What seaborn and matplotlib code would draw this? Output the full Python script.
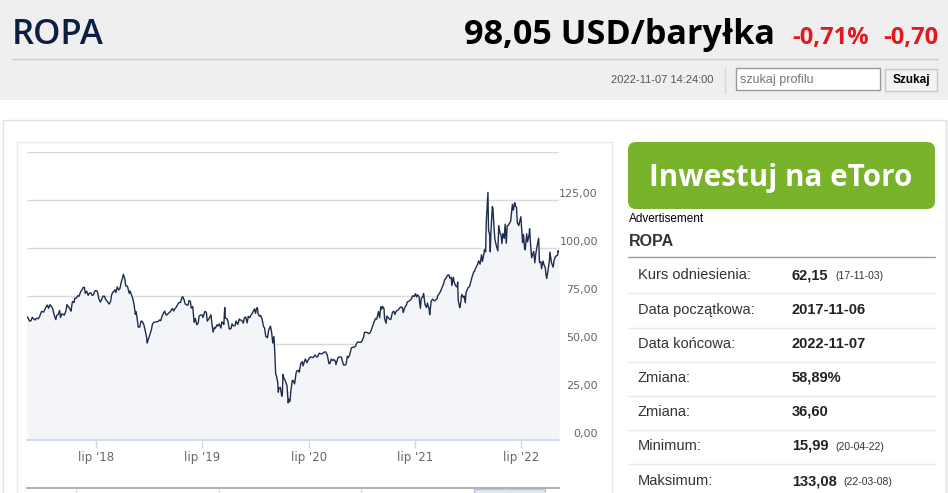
import matplotlib
matplotlib.use("Agg")
import matplotlib.pyplot as plt
import matplotlib.patches as mpatches
from matplotlib.transforms import Affine2D, ScaledTranslation
import seaborn as sns
import pandas as pd

W, H = 948, 493

# Brent price (roughly weekly, extra points at spikes)
dates = [
    # 2017
    "2017-11-06", "2017-11-10", "2017-11-15", "2017-11-20", "2017-11-24", "2017-11-29",
    "2017-12-04", "2017-12-08", "2017-12-12", "2017-12-15", "2017-12-20", "2017-12-26",
    # 2018
    "2018-01-02", "2018-01-05", "2018-01-10", "2018-01-15", "2018-01-19", "2018-01-24",
    "2018-01-29", "2018-02-02", "2018-02-08", "2018-02-13", "2018-02-16", "2018-02-21",
    "2018-02-26", "2018-03-01", "2018-03-06", "2018-03-09", "2018-03-14", "2018-03-20",
    "2018-03-23", "2018-03-28", "2018-04-03", "2018-04-06", "2018-04-11", "2018-04-17",
    "2018-04-19", "2018-04-24", "2018-04-30", "2018-05-04", "2018-05-09", "2018-05-14",
    "2018-05-17", "2018-05-22", "2018-05-25", "2018-05-30", "2018-06-04", "2018-06-08",
    "2018-06-13", "2018-06-18", "2018-06-22", "2018-06-27", "2018-07-03", "2018-07-06",
    "2018-07-11", "2018-07-16", "2018-07-20", "2018-07-25", "2018-07-30", "2018-08-03",
    "2018-08-08", "2018-08-15", "2018-08-20", "2018-08-24", "2018-08-29", "2018-09-04",
    "2018-09-07", "2018-09-12", "2018-09-17", "2018-09-21", "2018-09-25", "2018-10-01",
    "2018-10-03", "2018-10-08", "2018-10-11", "2018-10-17", "2018-10-23", "2018-10-26",
    "2018-10-31", "2018-11-05", "2018-11-09", "2018-11-13", "2018-11-16", "2018-11-20",
    "2018-11-23", "2018-11-28", "2018-12-03", "2018-12-07", "2018-12-12", "2018-12-18",
    "2018-12-21", "2018-12-24", "2018-12-27",
    # 2019
    "2019-01-02", "2019-01-07", "2019-01-11", "2019-01-16", "2019-01-22", "2019-01-25",
    "2019-01-30", "2019-02-04", "2019-02-08", "2019-02-13", "2019-02-19", "2019-02-22",
    "2019-02-26", "2019-03-01", "2019-03-06", "2019-03-12", "2019-03-15", "2019-03-20",
    "2019-03-25", "2019-03-29", "2019-04-03", "2019-04-09", "2019-04-12", "2019-04-17",
    "2019-04-23", "2019-04-25", "2019-04-30", "2019-05-03", "2019-05-08", "2019-05-13",
    "2019-05-16", "2019-05-21", "2019-05-24", "2019-05-29", "2019-06-03", "2019-06-07",
    "2019-06-12", "2019-06-17", "2019-06-20", "2019-06-25", "2019-07-01", "2019-07-03",
    "2019-07-10", "2019-07-15", "2019-07-18", "2019-07-24", "2019-07-31", "2019-08-02",
    "2019-08-07", "2019-08-12", "2019-08-15", "2019-08-20", "2019-08-23", "2019-08-28",
    "2019-09-03", "2019-09-06", "2019-09-11", "2019-09-13", "2019-09-16", "2019-09-18",
    "2019-09-24", "2019-09-27", "2019-10-02", "2019-10-08", "2019-10-11", "2019-10-16",
    "2019-10-22", "2019-10-25", "2019-10-31", "2019-11-05", "2019-11-08", "2019-11-13",
    "2019-11-19", "2019-11-22", "2019-11-27", "2019-12-02", "2019-12-06", "2019-12-11",
    "2019-12-16", "2019-12-20", "2019-12-27", "2019-12-31",
    # 2020
    "2020-01-03", "2020-01-06", "2020-01-09", "2020-01-14", "2020-01-17", "2020-01-22",
    "2020-01-27", "2020-01-31", "2020-02-04", "2020-02-10", "2020-02-14", "2020-02-20",
    "2020-02-24", "2020-02-28", "2020-03-03", "2020-03-06", "2020-03-09", "2020-03-12",
    "2020-03-16", "2020-03-18", "2020-03-20", "2020-03-25", "2020-03-30", "2020-04-01",
    "2020-04-03", "2020-04-07", "2020-04-09", "2020-04-14", "2020-04-17", "2020-04-21",
    "2020-04-23", "2020-04-27", "2020-04-30", "2020-05-05", "2020-05-08", "2020-05-13",
    "2020-05-18", "2020-05-21", "2020-05-26", "2020-05-29", "2020-06-03", "2020-06-08",
    "2020-06-11", "2020-06-16", "2020-06-19", "2020-06-24", "2020-06-29", "2020-07-03",
    "2020-07-08", "2020-07-14", "2020-07-17", "2020-07-22", "2020-07-28", "2020-07-31",
    "2020-08-05", "2020-08-10", "2020-08-14", "2020-08-19", "2020-08-25", "2020-08-28",
    "2020-09-02", "2020-09-08", "2020-09-11", "2020-09-16", "2020-09-21", "2020-09-25",
    "2020-09-30", "2020-10-02", "2020-10-07", "2020-10-09", "2020-10-14", "2020-10-20",
    "2020-10-23", "2020-10-28", "2020-11-02", "2020-11-06", "2020-11-10", "2020-11-13",
    "2020-11-18", "2020-11-24", "2020-11-27", "2020-12-02", "2020-12-08", "2020-12-11",
    "2020-12-16", "2020-12-21", "2020-12-28", "2020-12-31",
    # 2021
    "2021-01-05", "2021-01-08", "2021-01-13", "2021-01-19", "2021-01-22", "2021-01-27",
    "2021-02-01", "2021-02-05", "2021-02-10", "2021-02-15", "2021-02-19", "2021-02-25",
    "2021-03-01", "2021-03-05", "2021-03-08", "2021-03-11", "2021-03-16", "2021-03-18",
    "2021-03-23", "2021-03-26", "2021-03-31", "2021-04-06", "2021-04-09", "2021-04-14",
    "2021-04-19", "2021-04-22", "2021-04-28", "2021-05-03", "2021-05-07", "2021-05-12",
    "2021-05-18", "2021-05-21", "2021-05-26", "2021-06-01", "2021-06-04", "2021-06-09",
    "2021-06-14", "2021-06-18", "2021-06-23", "2021-06-28", "2021-07-02", "2021-07-06",
    "2021-07-09", "2021-07-14", "2021-07-19", "2021-07-22", "2021-07-27", "2021-07-30",
    "2021-08-04", "2021-08-09", "2021-08-12", "2021-08-18", "2021-08-20", "2021-08-25",
    "2021-08-30", "2021-09-03", "2021-09-08", "2021-09-14", "2021-09-17", "2021-09-22",
    "2021-09-28", "2021-10-01", "2021-10-06", "2021-10-11", "2021-10-14", "2021-10-20",
    "2021-10-25", "2021-10-28", "2021-11-02", "2021-11-04", "2021-11-09", "2021-11-12",
    "2021-11-17", "2021-11-22", "2021-11-24", "2021-11-26", "2021-12-01", "2021-12-03",
    "2021-12-08", "2021-12-13", "2021-12-16", "2021-12-20", "2021-12-23", "2021-12-29",
    # 2022
    "2022-01-04", "2022-01-07", "2022-01-12", "2022-01-18", "2022-01-21", "2022-01-26",
    "2022-01-31", "2022-02-04", "2022-02-09", "2022-02-14", "2022-02-17", "2022-02-22",
    "2022-02-24", "2022-02-28", "2022-03-02", "2022-03-04", "2022-03-08", "2022-03-10",
    "2022-03-14", "2022-03-16", "2022-03-18", "2022-03-23", "2022-03-25", "2022-03-29",
    "2022-04-01", "2022-04-06", "2022-04-11", "2022-04-14", "2022-04-19", "2022-04-22",
    "2022-04-25", "2022-04-28", "2022-05-03", "2022-05-06", "2022-05-10", "2022-05-13",
    "2022-05-17", "2022-05-20", "2022-05-25", "2022-05-31", "2022-06-03", "2022-06-08",
    "2022-06-10", "2022-06-14", "2022-06-17", "2022-06-22", "2022-06-24", "2022-06-29",
    "2022-07-01", "2022-07-05", "2022-07-08", "2022-07-12", "2022-07-14", "2022-07-19",
    "2022-07-22", "2022-07-27", "2022-07-29", "2022-08-02", "2022-08-05", "2022-08-10",
    "2022-08-12", "2022-08-16", "2022-08-19", "2022-08-24", "2022-08-29", "2022-09-01",
    "2022-09-06", "2022-09-08", "2022-09-13", "2022-09-16", "2022-09-21", "2022-09-23",
    "2022-09-26", "2022-09-30", "2022-10-05", "2022-10-07", "2022-10-12", "2022-10-14",
    "2022-10-18", "2022-10-21", "2022-10-26", "2022-10-28", "2022-11-02", "2022-11-04",
    "2022-11-07",
]

prices = [
    # 2017
    64.3, 63.5, 61.9, 62.2, 63.9, 63.1,
    62.5, 63.4, 63.3, 63.2, 64.6, 67.0,
    # 2018
    66.6, 67.6, 69.2, 70.3, 68.6, 70.5,
    69.5, 68.6, 64.8, 62.7, 64.8, 65.4,
    67.5, 63.8, 65.8, 65.5, 65.0, 67.4,
    70.5, 69.5, 68.1, 67.1, 72.1, 71.6,
    73.8, 73.9, 75.2, 74.9, 77.2, 78.2,
    79.3, 79.6, 76.4, 77.5, 75.3, 76.5,
    76.7, 75.3, 75.6, 77.6, 77.8, 77.1,
    73.4, 71.8, 73.1, 74.9, 74.9, 73.2,
    72.3, 70.8, 72.2, 75.8, 77.1, 78.2,
    76.8, 79.7, 78.1, 78.8, 81.9, 84.9,
    86.3, 83.9, 80.3, 80.1, 76.4, 77.6,
    75.5, 73.2, 70.2, 65.5, 66.8, 62.5,
    58.8, 58.8, 62.0, 61.7, 60.2, 56.3,
    54.0, 50.5, 52.2,
    # 2019
    54.9, 57.3, 60.5, 61.3, 61.5, 61.6,
    61.7, 62.5, 62.1, 64.6, 66.5, 67.1,
    65.2, 65.1, 65.9, 66.7, 67.2, 68.5,
    67.2, 68.4, 69.3, 71.0, 71.6, 71.6,
    74.5, 74.6, 72.8, 70.9, 70.4, 70.2,
    72.6, 72.2, 68.7, 69.5, 61.3, 63.3,
    60.0, 60.9, 64.5, 65.1, 65.1, 63.8,
    67.0, 66.5, 61.9, 63.2, 65.2, 61.9,
    56.2, 58.6, 58.2, 60.0, 59.3, 60.5,
    58.3, 61.5, 60.8, 60.2, 69.0, 63.6,
    63.1, 61.9, 57.7, 58.2, 60.5, 59.4,
    59.7, 62.0, 60.2, 63.0, 62.5, 62.4,
    60.9, 63.4, 64.1, 61.0, 64.4, 63.7,
    65.3, 66.1, 68.2, 66.0,
    # 2020
    68.6, 68.9, 65.4, 64.5, 64.9, 63.2,
    59.3, 58.2, 54.0, 53.3, 57.3, 59.3,
    56.3, 50.5, 53.9, 45.3, 34.4, 33.2,
    30.1, 24.9, 27.0, 27.4, 22.8, 24.7,
    34.1, 31.9, 31.5, 29.6, 28.1, 19.3,
    21.3, 20.0, 25.3, 31.0, 31.0, 29.2,
    34.8, 36.1, 36.2, 35.3, 39.8, 40.8,
    38.6, 41.0, 42.2, 40.3, 41.7, 42.8,
    43.3, 42.9, 43.1, 44.3, 43.2, 43.3,
    45.2, 45.0, 44.8, 45.4, 45.9, 45.8,
    44.4, 39.8, 39.8, 42.2, 41.4, 41.9,
    41.0, 39.3, 42.0, 42.9, 43.3, 43.2,
    41.8, 39.1, 39.0, 39.5, 43.6, 42.8,
    44.3, 48.0, 48.2, 48.3, 48.8, 50.0,
    51.1, 50.9, 50.9, 51.8,
    # 2021
    53.6, 56.0, 56.1, 55.9, 55.4, 55.8,
    57.5, 59.3, 61.5, 63.3, 62.9, 66.9,
    63.7, 69.4, 68.2, 69.6, 68.4, 63.3,
    60.8, 64.6, 63.5, 62.7, 63.0, 66.6,
    67.1, 65.4, 67.3, 67.6, 68.3, 69.3,
    69.0, 66.4, 68.9, 70.3, 71.9, 72.2,
    72.9, 73.5, 75.2, 74.7, 76.2, 74.5,
    75.6, 74.8, 68.6, 73.8, 74.5, 76.3,
    70.4, 69.0, 71.3, 68.2, 65.2, 72.3,
    73.4, 72.6, 72.6, 73.6, 75.3, 76.2,
    78.1, 79.3, 81.1, 83.7, 84.0, 85.8,
    86.0, 84.3, 84.7, 80.5, 84.8, 82.2,
    80.3, 79.7, 82.3, 72.7, 68.9, 69.9,
    75.8, 74.4, 75.0, 71.5, 76.9, 79.2,
    # 2022
    80.0, 81.8, 84.7, 87.5, 87.9, 90.0,
    91.2, 93.3, 91.6, 96.5, 93.0, 96.8,
    99.1, 98.0, 112.9, 118.1, 129.0, 109.3,
    106.9, 98.0, 107.9, 121.6, 120.6, 110.2,
    104.4, 101.1, 98.5, 111.7, 107.3, 106.7,
    102.3, 107.6, 105.0, 112.4, 102.5, 111.6,
    111.9, 112.6, 114.0, 122.8, 119.7, 123.6,
    122.0, 121.2, 113.1, 111.7, 113.1, 116.3,
    111.6, 102.8, 107.0, 99.5, 99.1, 107.4,
    103.2, 106.6, 110.0, 100.5, 94.9, 97.4,
    98.2, 92.3, 96.7, 101.2, 105.1, 92.4,
    92.8, 89.2, 93.2, 91.4, 89.8, 86.2,
    84.1, 88.0, 93.4, 97.9, 92.5, 91.6,
    90.0, 93.5, 95.7, 95.8, 96.2, 98.6,
    97.9,
]

x_tick_dates = ["2018-07-01", "2019-07-01", "2020-07-01", "2021-07-01", "2022-07-01"]
x_tick_labels = ["lip '18", "lip '19", "lip '20", "lip '21", "lip '22"]
y_ticks = [0, 25, 50, 75, 100, 125, 150]

stat_labels = ["Kurs odniesienia:", "Data początkowa:", "Data końcowa:", "Zmiana:",
               "Zmiana:", "Minimum:", "Maksimum:"]
stat_values = ["62,15", "2017-11-06", "2022-11-07", "58,89%", "36,60", "15,99", "133,08"]
stat_notes = ["(17-11-03)", "", "", "", "", "(20-04-22)", "(22-03-08)"]

assert len(dates) == len(prices)

sns.set_theme(style="white")
plt.rcParams["font.family"] = ["DejaVu Sans"]

fig = plt.figure(figsize=(W / 100, H / 100), dpi=100)
fig.patch.set_facecolor("white")
# pixel coordinates, origin top-left
T = Affine2D().scale(1, -1).translate(0, H)


def rect(x0, y0, x1, y1, **kw):
    fig.add_artist(mpatches.Rectangle((x0, y0), x1 - x0, y1 - y0, transform=T, **kw))


def line(x0, y0, x1, y1, **kw):
    fig.add_artist(plt.Line2D([x0, x1], [y0, y1], transform=T, **kw))


def text(x, y, s, **kw):
    fig.text(x, y, s, transform=T, **kw)


# header band
rect(0, 0, W, 100, fc="#efefef", ec="none")
text(12, 44, "ROPA", fontsize=25, color="#0b1f3f", family="Open Sans", weight="semibold", va="baseline")
text(775, 44, "98,05 USD/baryłka", fontsize=24.6, color="black", family="Open Sans", weight="bold",
     ha="right", va="baseline")
text(792, 44, "-0,71%", fontsize=17, color="#e3171e", family="Open Sans", weight="bold", va="baseline")
text(938, 44, "-0,70", fontsize=17, color="#e3171e", family="Open Sans", weight="bold",
     ha="right", va="baseline")
line(12, 58.5, 938, 58.5, color="#cfcfcf", lw=1)
text(713, 80, "2022-11-07 14:24:00", fontsize=8, color="#555555", family="Liberation Sans",
     ha="right", va="center")
line(725, 68, 725, 93, color="#d6d6d6", lw=1)
rect(736, 68, 880, 90, fc="white", ec="#9a9a9a", lw=1)
text(740, 79.5, "szukaj profilu", fontsize=9, color="#777777", family="Liberation Sans", va="center")
rect(885, 69, 937, 91, fc="#f3f3f3", ec="#c8c8c8", lw=1)
text(911, 80, "Szukaj", fontsize=8.5, color="black", family="Liberation Sans", weight="bold",
     ha="center", va="center")

# card and chart panel borders
rect(3, 120, 945.5, 540, fc="none", ec="#e2e2e2", lw=1)
rect(17, 142, 612, 540, fc="none", ec="#e8e8e8", lw=1)

# price chart
ax = fig.add_axes([27 / W, 1 - 440 / H, (559 - 27) / W, (440 - 152) / H])
df = pd.DataFrame({"date": pd.to_datetime(dates), "price": prices})
ax.fill_between(df["date"], df["price"], 0, color="#f4f5f8", lw=0)
sns.lineplot(data=df, x="date", y="price", ax=ax, color="#1e2c4c", lw=1.0)
ax.set_xlim(df["date"].iloc[0], df["date"].iloc[-1])
ax.set_ylim(0, 150)
ax.set_xlabel("")
ax.set_ylabel("")
ax.set_facecolor("white")

ax.set_yticks(y_ticks)
ax.yaxis.tick_right()
ax.set_yticklabels([f"{v:.2f}".replace(".", ",") if v < 150 else "" for v in y_ticks])
ax.tick_params(axis="y", length=0, pad=28, labelsize=8, labelcolor="#666666")
for lab in ax.get_yticklabels():
    lab.set_horizontalalignment("right")
    lab.set_transform(lab.get_transform() + ScaledTranslation(0, 0.07, fig.dpi_scale_trans))
ax.grid(axis="y", color="#dadada", lw=1)
ax.grid(axis="x", visible=False)

ax.set_xticks(pd.to_datetime(x_tick_dates))
ax.set_xticklabels(x_tick_labels)
ax.tick_params(axis="x", bottom=True, length=6, width=1, color="#ccd6eb", pad=2,
               labelsize=8.5, labelcolor="#666666")
for side in ["top", "left", "right"]:
    ax.spines[side].set_visible(False)
ax.spines["bottom"].set_color("#ccd6eb")
ax.spines["bottom"].set_linewidth(1.2)

# navigator strip (only its top edge is visible)
line(27, 488, 559, 488, color="#b3b3b3", lw=1.5)
for xv in [76, 219, 361, 505]:
    line(xv, 489, xv, 493, color="#e0e0e0", lw=1)
rect(474, 489, 545, 500, fc="#dfe9f6", ec="#b9c7da", lw=1)

# right panel
fig.add_artist(mpatches.FancyBboxPatch((628, 142), 307, 67, boxstyle="round,pad=0,rounding_size=8",
                                       transform=T, fc="#79b22b", ec="none"))
text(781, 186, "Inwestuj na eToro", fontsize=21.3, color="white", family="Open Sans", weight="bold",
     ha="center", va="baseline")
text(629, 219.5, "Advertisement", fontsize=8.5, color="black", family="Liberation Sans", va="center")
text(629, 241.5, "ROPA", fontsize=11.5, color="#333333", family="Liberation Sans", weight="bold", va="center")
line(628, 257, 935, 257, color="#9a9a9a", lw=1)

row_y = [275, 310, 344, 378, 412, 446, 481]
for i, (lab, val, note) in enumerate(zip(stat_labels, stat_values, stat_notes)):
    y = row_y[i]
    text(638, y, lab, fontsize=10.5, color="#333333", family="Liberation Sans", va="center")
    text(792, y, val, fontsize=10.5, color="#222222", family="Liberation Sans", weight="bold", va="center")
    if note:
        nx = 843 if len(val) > 5 else 835
        text(nx, y + 1, note, fontsize=7.5, color="#333333", family="Liberation Sans", va="center")
    if i < len(stat_labels) - 1:
        line(628, y + 18, 935, y + 18, color="#e8e8e8", lw=1)
line(945.5, 120, 945.5, 493, color="#e2e2e2", lw=1)

fig.savefig("out.png", dpi=100)
